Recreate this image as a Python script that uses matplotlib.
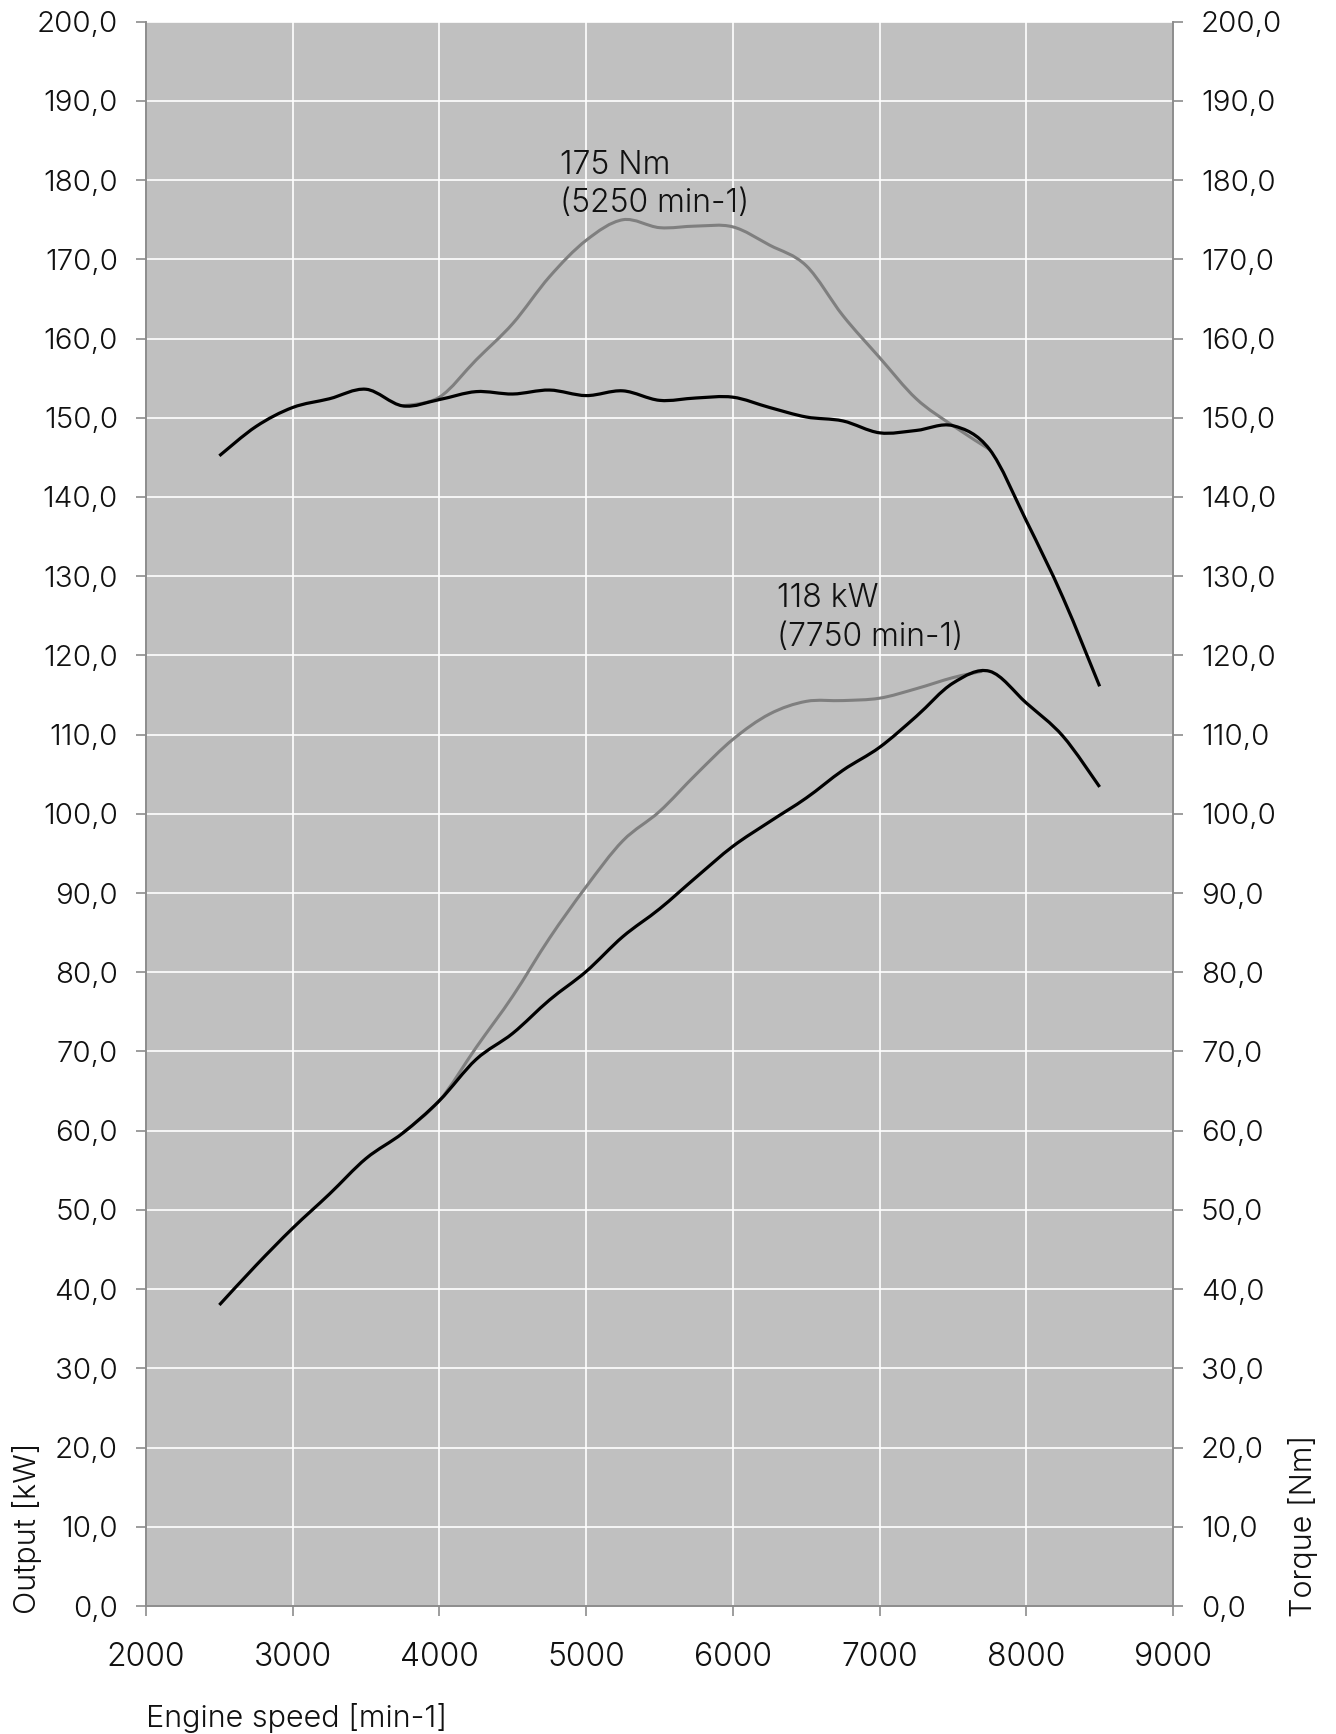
import matplotlib
matplotlib.use("Agg")
import matplotlib.pyplot as plt
from matplotlib.ticker import FixedLocator
from matplotlib.path import Path
from matplotlib.patches import PathPatch

plt.rcParams['font.family'] = ['Inter', 'DejaVu Sans']
plt.rcParams['font.weight'] = 300

# ---- data ----
rpm = [2500, 2750, 3000, 3250, 3500, 3750, 4000, 4250, 4500, 4750, 5000, 5250,
       5500, 5750, 6000, 6250, 6500, 6750, 7000, 7250, 7500, 7750, 8000, 8250, 8500]
torque_black = [145.2, 148.9, 151.3, 152.4, 153.6, 151.5, 152.3, 153.3, 153.0, 153.5, 152.8, 153.4,
                152.2, 152.5, 152.6, 151.3, 150.1, 149.6, 148.1, 148.4, 149.0, 146.0, 137.0, 127.3, 116.1]
power_black = [38.0, 43.0, 47.7, 52.0, 56.5, 59.7, 63.8, 69.0, 72.3, 76.5, 80.1, 84.5,
               88.0, 92.0, 95.9, 99.0, 102.0, 105.5, 108.4, 112.3, 116.5, 118.0, 114.0, 109.8, 103.4]

rpm_gray_t = [3750, 4000, 4250, 4500, 4750, 5000, 5250, 5500, 5750, 6000, 6250, 6500, 6750,
              7000, 7250, 7500, 7750]
torque_gray = [151.5, 152.6, 157.3, 161.9, 167.8, 172.4, 175.0, 174.0, 174.2, 174.1, 171.8, 169.2,
               162.9, 157.6, 152.4, 149.0, 146.0]

rpm_gray_p = [3750, 4000, 4250, 4500, 4750, 5000, 5250, 5500, 5750, 6000, 6250, 6500, 6750,
              7000, 7250, 7500, 7700]
power_gray = [59.7, 63.8, 70.5, 77.0, 84.3, 90.8, 96.6, 100.3, 105.0, 109.4, 112.6, 114.2,
              114.3, 114.6, 115.8, 117.2, 118.0]

x_ticks = [2000, 3000, 4000, 5000, 6000, 7000, 8000, 9000]
y_ticks = list(range(0, 201, 10))
y_labels = [f"{v},0" for v in y_ticks]

ann_torque = "175 Nm\n(5250 min-1)"
ann_power = "118 kW\n(7750 min-1)"


def smooth_path(xs, ys):
    """Catmull-Rom spline through the data points, as cubic Bezier path."""
    pts = list(zip(xs, ys))
    n = len(pts)
    verts = [pts[0]]
    codes = [Path.MOVETO]
    for i in range(n - 1):
        p0 = pts[i - 1] if i > 0 else pts[i]
        p1 = pts[i]
        p2 = pts[i + 1]
        p3 = pts[i + 2] if i + 2 < n else pts[i + 1]
        c1 = (p1[0] + (p2[0] - p0[0]) / 6, p1[1] + (p2[1] - p0[1]) / 6)
        c2 = (p2[0] - (p3[0] - p1[0]) / 6, p2[1] - (p3[1] - p1[1]) / 6)
        verts += [c1, c2, p2]
        codes += [Path.CURVE4] * 3
    return Path(verts, codes)


# ---- figure ----
W, H = 1336, 1734
fig = plt.figure(figsize=(W / 100, H / 100), dpi=100)
ax = fig.add_axes([146 / W, 1 - 1606 / H, (1173 - 146) / W, (1606 - 21.7) / H])
ax.set_facecolor('#c0c0c0')
ax.set_xlim(2000, 9000)
ax.set_ylim(0, 200)

spine_col = '#8c8c8c'
txt_col = '#111111'
for s in ['left', 'right', 'bottom']:
    ax.spines[s].set_color(spine_col)
    ax.spines[s].set_linewidth(1.2)
ax.spines['top'].set_visible(False)

ax.xaxis.set_major_locator(FixedLocator(x_ticks))
ax.yaxis.set_major_locator(FixedLocator(y_ticks))
ax.set_yticklabels(y_labels)
ax.set_xticklabels([str(v) for v in x_ticks])
ax.grid(True, color='white', linewidth=1.2, zorder=0)
ax.set_axisbelow(True)
ax.tick_params(axis='y', direction='out', length=7.2, width=1.2, color=spine_col,
               labelsize=21.3, pad=13, labelcolor=txt_col)
ax.tick_params(axis='x', direction='out', length=7.2, width=1.2, color=spine_col,
               labelsize=23, pad=18.5, labelcolor=txt_col)

ax2 = ax.twinx()
ax2.set_ylim(0, 200)
ax2.yaxis.set_major_locator(FixedLocator(y_ticks))
ax2.set_yticklabels(y_labels)
ax2.tick_params(axis='y', direction='out', length=7.2, width=1.2, color=spine_col,
                labelsize=21.3, pad=13, labelcolor=txt_col)
for s in ['left', 'right', 'bottom']:
    ax2.spines[s].set_color(spine_col)
    ax2.spines[s].set_linewidth(1.2)
ax2.spines['top'].set_visible(False)

gray = '#7f7f7f'
for xs, ys, col, lw, z in [(rpm_gray_t, torque_gray, gray, 2.2, 3),
                           (rpm_gray_p, power_gray, gray, 2.2, 3),
                           (rpm, torque_black, 'black', 2.3, 4),
                           (rpm, power_black, 'black', 2.3, 4)]:
    ax.add_patch(PathPatch(smooth_path(xs, ys), fill=False, edgecolor=col, lw=lw,
                           zorder=z, capstyle='butt', joinstyle='round'))

ax.text(4822, 183.8, ann_torque, fontsize=23, va='top', ha='left', color=txt_col,
        linespacing=1.3, zorder=5)
ax.text(6301, 129.1, ann_power, fontsize=23, va='top', ha='left', color=txt_col,
        linespacing=1.3, zorder=5)

fig.text(146 / W, 1 - 1727 / H, "Engine speed [min-1]", fontsize=22, ha='left',
         va='baseline', color=txt_col)
fig.text(27 / W, 1 - 1614 / H, "Output [kW]", fontsize=22, rotation=90, ha='center',
         va='bottom', color=txt_col)
fig.text(1303 / W, 1 - 1617 / H, "Torque [Nm]", fontsize=22, rotation=90, ha='center',
         va='bottom', color=txt_col)

fig.savefig('out.png', dpi=100, facecolor='white')
